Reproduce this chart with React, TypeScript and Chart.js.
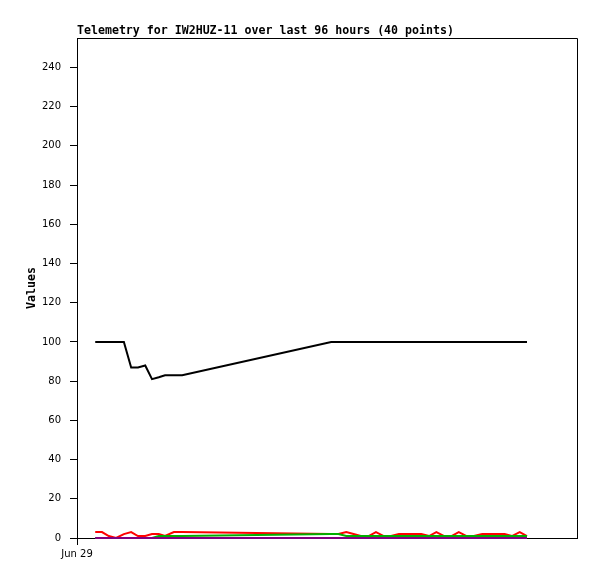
import React, { useEffect, useRef } from "react";
import { Chart, registerables } from "chart.js";

Chart.register(...registerables);

const titleText = "Telemetry for IW2HUZ-11 over last 96 hours (40 points)";
const yAxisTitle = "Values";
const xTickLabel = "Jun 29";

// hours since Jun 29 00:00
const timeHours = [
  3.5, 4.8, 6.1, 7.5, 9.0, 10.4, 11.7, 13.1, 14.4, 15.7, 16.9, 18.6, 20.2,
  48.8, 50.2, 51.7, 53.1, 54.5, 56.0, 57.4, 58.9, 60.3, 61.8, 63.2, 64.7, 66.1,
  67.6, 69.0, 70.5, 71.9, 73.3, 74.8, 76.2, 77.8, 79.2, 80.6, 82.1, 83.5, 85.0, 86.4,
];

const ch1 = [
  100, 100, 100, 100, 100, 87, 87, 88, 81, 82, 83, 83, 83,
  100, 100, 100, 100, 100, 100, 100, 100, 100, 100, 100, 100, 100,
  100, 100, 100, 100, 100, 100, 100, 100, 100, 100, 100, 100, 100, 100,
];
const ch2 = [
  3, 3, 1, 0, 2, 3, 1, 1, 2, 2, 1, 3, 3,
  2, 2, 3, 2, 1, 1, 3, 1, 1, 2, 2, 2, 2,
  1, 3, 1, 1, 3, 1, 1, 2, 2, 2, 2, 1, 3, 1,
];
const ch3 = [
  0, 0, 0, 0, 0, 0, 0, 0, 0, 1, 1, 1, 1,
  2, 2, 1, 1, 1, 1, 1, 1, 1, 1, 1, 1, 1,
  1, 1, 1, 1, 1, 1, 1, 1, 1, 1, 1, 1, 1, 1,
];
const ch4 = [
  0, 0, 0, 0, 0, 0, 0, 0, 0, 0, 0, 0, 0,
  0, 0, 0, 0, 0, 0, 0, 0, 0, 0, 0, 0, 0,
  0, 0, 0, 0, 0, 0, 0, 0, 0, 0, 0, 0, 0, 0,
];

const yTicks = [0, 20, 40, 60, 80, 100, 120, 140, 160, 180, 200, 220, 240];
const xTicks = [0];
const yMax = 255;
const xMax = 96;

function pts(values: number[]) {
  return values.map((v, i) => ({ x: timeHours[i], y: v }));
}

export default function App() {
  const ref = useRef<HTMLCanvasElement | null>(null);

  useEffect(() => {
    if (!ref.current) return;
    const framePlugin = {
      id: "frame",
      afterDraw(chart: any) {
        const ctx = chart.ctx;
        const a = chart.chartArea;
        ctx.save();
        ctx.strokeStyle = "#000";
        ctx.lineWidth = 1;
        ctx.beginPath();
        ctx.moveTo(a.left, a.top + 0.5);
        ctx.lineTo(a.right + 0.5, a.top + 0.5);
        ctx.lineTo(a.right + 0.5, a.bottom + 0.5);
        ctx.stroke();
        ctx.fillStyle = "#000";
        ctx.font = 'bold 11.6px "DejaVu Sans Mono"';
        ctx.textAlign = "left";
        ctx.textBaseline = "alphabetic";
        ctx.fillText(titleText, a.left, 34);
        ctx.translate(32, (a.top + a.bottom) / 2);
        ctx.rotate(-Math.PI / 2);
        ctx.textAlign = "center";
        ctx.textBaseline = "middle";
        ctx.fillText(yAxisTitle, 0, 0);
        ctx.restore();
      },
    };

    const mk = (label: string, data: number[], color: string) => ({
      label,
      data: pts(data),
      borderColor: color,
      backgroundColor: color,
      borderWidth: 2,
      pointRadius: 0,
      tension: 0,
      fill: false,
      clip: false as any,
    });

    const chart = new Chart(ref.current, {
      type: "line",
      data: {
        datasets: [
          mk("ch4", ch4, "#800080"),
          mk("ch3", ch3, "#00b000"),
          mk("ch2", ch2, "#ff0000"),
          mk("ch1", ch1, "#000000"),
        ],
      },
      plugins: [framePlugin],
      options: {
        animation: false,
        responsive: false,
        devicePixelRatio: 1,
        layout: { padding: { top: 38, right: 20, left: 0, bottom: 0 } },
        plugins: {
          legend: { display: false },
          title: { display: false },
          tooltip: { enabled: false },
        },
        scales: {
          x: {
            type: "linear",
            min: 0,
            max: xMax,
            afterFit: (s: any) => {
              s.height = 41;
            },
            afterBuildTicks: (s: any) => {
              s.ticks = xTicks.map((v) => ({ value: v }));
            },
            grid: {
              drawOnChartArea: false,
              drawTicks: true,
              tickLength: 7,
              color: "#000",
            },
            border: { display: true, color: "#000", width: 1 },
            ticks: {
              color: "#000",
              font: { family: "DejaVu Sans", size: 10 },
              padding: 3,
              maxRotation: 0,
              autoSkip: false,
              callback: () => xTickLabel,
            },
          },
          y: {
            type: "linear",
            min: 0,
            max: yMax,
            afterFit: (s: any) => {
              s.width = 77;
            },
            afterBuildTicks: (s: any) => {
              s.ticks = yTicks.map((v) => ({ value: v }));
            },
            grid: {
              drawOnChartArea: false,
              drawTicks: true,
              tickLength: 7,
              color: "#000",
            },
            border: { display: true, color: "#000", width: 1 },
            ticks: {
              color: "#000",
              font: { family: "DejaVu Sans", size: 10 },
              padding: 9,
              autoSkip: false,
            },
          },
        },
      },
    });
    return () => chart.destroy();
  }, []);

  return (
    <div style={{ position: "absolute", left: 0, top: 0, width: 597, height: 579, background: "#fff" }}>
      <canvas ref={ref} width={597} height={579} />
    </div>
  );
}
